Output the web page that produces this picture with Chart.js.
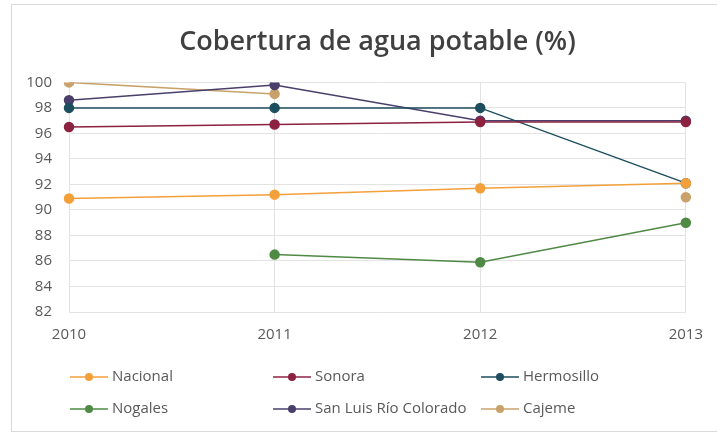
<!DOCTYPE html>
<html>
<head>
<meta charset="utf-8">
<script src="https://cdn.jsdelivr.net/npm/chart.js@4"></script>
<style>
  html, body { margin: 0; padding: 0; background: #fff; }
  #wrap { position: relative; width: 717px; height: 434px; }
</style>
</head>
<body>
<div id="wrap"><canvas id="chartContainer" width="717" height="434"></canvas></div>
<script>
const years = ['2010', '2011', '2012', '2013'];
const nacional = [90.9, 91.2, 91.7, 92.1];
const sonora = [96.5, 96.7, 96.9, 96.9];
const hermosillo = [98.0, 98.0, 98.0, 92.1];
const nogales = [null, 86.5, 85.9, 89.0];
const sanLuis = [98.6, 99.8, 97.0, 97.0];
const cajeme = [100.0, 99.1, null, 91.0];
const yTicks = [82, 84, 86, 88, 90, 92, 94, 96, 98, 100];

const FONT = '"Open Sans", sans-serif';
const GREY = '#595959';

function serie(label, data, color) {
    return {
        label: label,
        data: data,
        borderColor: color,
        backgroundColor: color,
        borderWidth: 1.5,
        pointRadius: 4.5,
        pointHoverRadius: 5,
        tension: 0,
        spanGaps: false
    };
}

// legend in fixed columns like the original (line + dot + name)
const gridLegend = {
    id: 'gridLegend',
    afterDraw(chart) {
        const ctx = chart.ctx;
        const cols = [70, 273, 481];
        const rows = [377, 409];
        ctx.save();
        ctx.font = '15px ' + FONT;
        ctx.textBaseline = 'middle';
        ctx.textAlign = 'left';
        chart.data.datasets.forEach((ds, i) => {
            const x = cols[i % 3];
            const y = rows[Math.floor(i / 3)];
            ctx.strokeStyle = ds.borderColor;
            ctx.lineWidth = 1.5;
            ctx.beginPath();
            ctx.moveTo(x, y);
            ctx.lineTo(x + 38, y);
            ctx.stroke();
            ctx.fillStyle = ds.backgroundColor;
            ctx.beginPath();
            ctx.arc(x + 19, y, 4, 0, Math.PI * 2);
            ctx.fill();
            ctx.fillStyle = GREY;
            ctx.fillText(ds.label, x + 42, y);
        });
        // thin frame like the exported picture
        ctx.strokeStyle = '#d9d9d9';
        ctx.lineWidth = 1;
        ctx.strokeRect(11.5, 4.5, 720, 427);
        ctx.restore();
    }
};

document.addEventListener('DOMContentLoaded', () => {
    const ctx = document.getElementById('chartContainer').getContext('2d');
    new Chart(ctx, {
        type: 'line',
        data: {
            labels: years,
            datasets: [
                serie('Nacional', nacional, '#f4a03a'),
                serie('Sonora', sonora, '#8c2240'),
                serie('Hermosillo', hermosillo, '#1d4e5e'),
                serie('Nogales', nogales, '#4f8a45'),
                serie('San Luis Río Colorado', sanLuis, '#4a3f6b'),
                serie('Cajeme', cajeme, '#c9a26a')
            ]
        },
        options: {
            responsive: false,
            animation: false,
            layout: { padding: { left: 18, right: 28, top: 0, bottom: 92 } },
            plugins: {
                legend: { display: false },
                tooltip: { enabled: false },
                title: {
                    display: true,
                    fullSize: false,
                    text: 'Cobertura de agua potable (%)',
                    color: '#404040',
                    font: { family: FONT, size: 27, weight: '600' },
                    padding: { top: 26, bottom: 24 }
                }
            },
            scales: {
                x: {
                    offset: false,
                    grid: { color: '#e3e3e3', drawTicks: false },
                    border: { display: false },
                    ticks: { color: GREY, font: { family: FONT, size: 15 }, padding: 14, maxRotation: 0 },
                    afterFit(scale) { scale.height = 30; }
                },
                y: {
                    min: 82,
                    max: 100,
                    afterBuildTicks(scale) { scale.ticks = yTicks.map(v => ({ value: v })); },
                    grid: { color: '#e3e3e3', drawTicks: false },
                    border: { display: false },
                    ticks: { color: GREY, font: { family: FONT, size: 15 }, padding: 17 },
                    afterFit(scale) { scale.width = 51; }
                }
            }
        },
        plugins: [gridLegend]
    });
});
</script>
</body>
</html>
